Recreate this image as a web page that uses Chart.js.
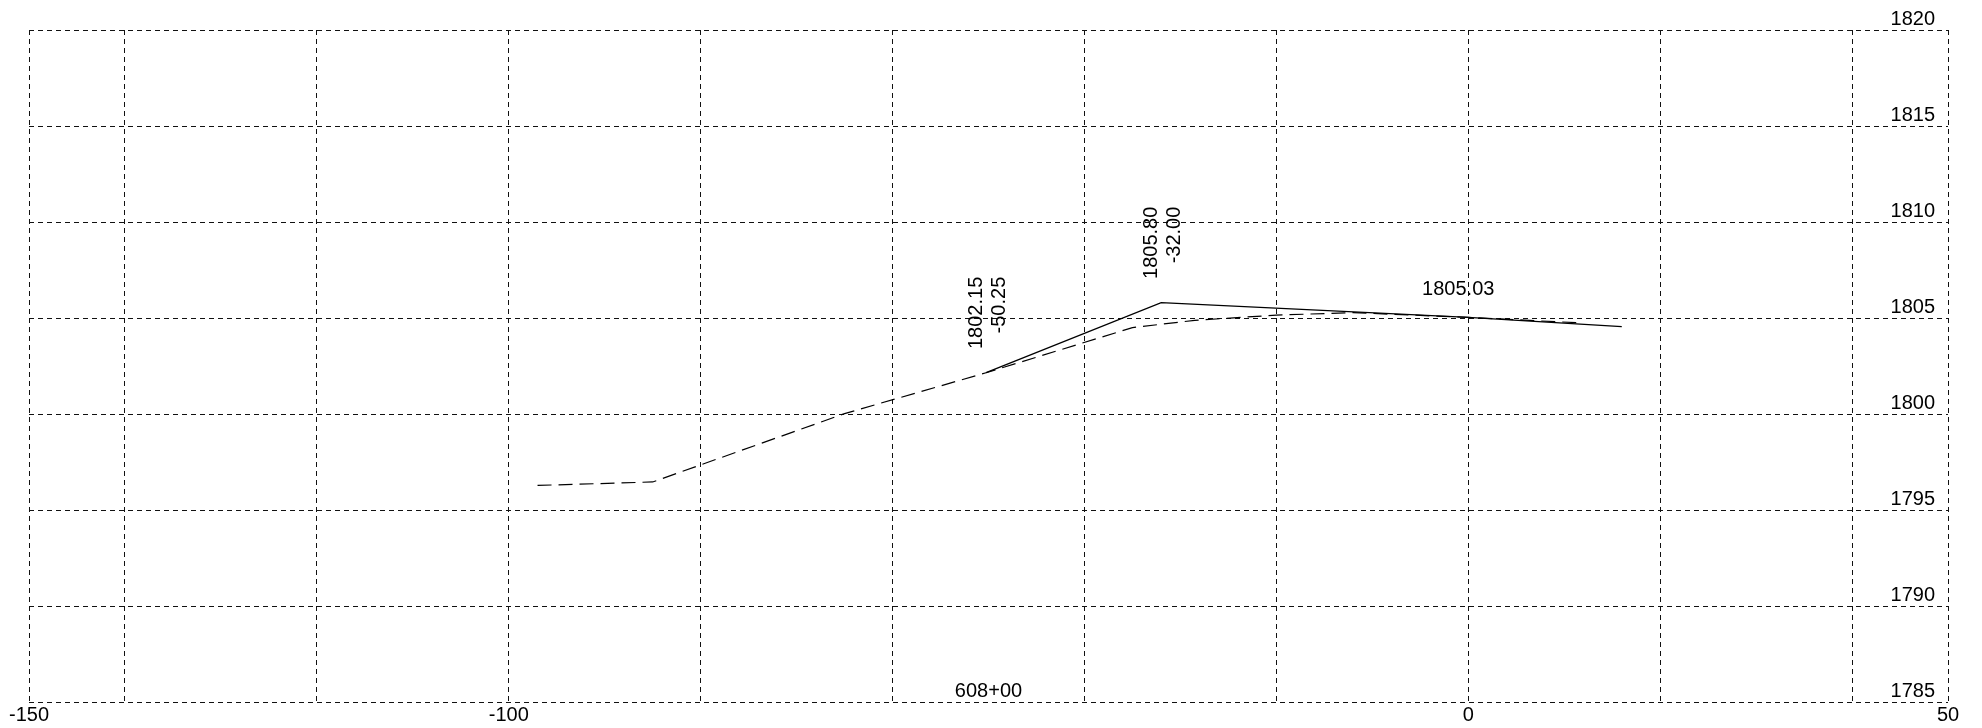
<!DOCTYPE html>
<html><head><meta charset="utf-8">
<script src="https://cdn.jsdelivr.net/npm/chart.js@4/dist/chart.umd.min.js"></script>
<style>html,body{margin:0;padding:0;background:#fff;overflow:hidden}#wrap{width:1982px;height:728px;position:relative}canvas{display:block}</style>
</head><body><div id="wrap"><canvas id="c" width="1982" height="728" style="width:1982px;height:728px"></canvas></div>
<script>
// Design (proposed) section – solid line
const designX = [-50.25, -32.00, 0, 16.0];
const designY = [1802.15, 1805.80, 1805.03, 1804.55];
// Existing ground – dashed line
const groundX = [-97.0, -85.0, -65.0, -50.25, -35.0, -28.5, -20.0, -12.0, 0, 11.5];
const groundY = [1796.28, 1796.46, 1800.02, 1802.15, 1804.5, 1804.88, 1805.15, 1805.28, 1805.03, 1804.75];
// Axis ticks
const xGridTicks = [-150, -140, -120, -100, -80, -60, -40, -20, 0, 20, 40, 50];
const xTickLabels = [-150, -100, 0, 50];
const yTicks = [1785, 1790, 1795, 1800, 1805, 1810, 1815, 1820];
// Annotations
const vertexLabelX = [-50.25, -32.00];
const vertexLabelY = [1802.15, 1805.80];
const centerLabelX = [0];
const centerLabelY = [1805.03];
const stationLabel = '608+00';
const stationX = -50;

const FONT = '"Liberation Sans", Arial, sans-serif';
const FS = 20;
Chart.defaults.font.family = FONT;
Chart.defaults.font.size = FS;
Chart.defaults.color = '#000';

const toPts = (xs, ys) => xs.map((x, i) => ({x, y: ys[i]}));

const annot = {
  id: 'annot',
  afterDatasetsDraw(chart) {
    const {ctx, scales: {x, y}, chartArea} = chart;
    ctx.save();
    ctx.fillStyle = '#000';
    ctx.font = FS + 'px ' + FONT;
    // elevation labels inside the plot, right side, above each grid line
    ctx.textAlign = 'right';
    ctx.textBaseline = 'alphabetic';
    yTicks.forEach(v => {
      ctx.fillText(String(v), chartArea.right - 13, y.getPixelForValue(v) - 5);
    });
    vertexLabelX.forEach((vx, i) => {
      const px = x.getPixelForValue(vx);
      const py = y.getPixelForValue(vertexLabelY[i]);
      const lines = [vertexLabelY[i].toFixed(2), vx.toFixed(2)];
      ctx.save();
      ctx.translate(px, py - 96);
      ctx.rotate(-Math.PI / 2);
      ctx.textAlign = 'right';
      ctx.textBaseline = 'middle';
      ctx.fillText(lines[0], 0, -9.5);
      ctx.fillText(lines[1], 0, 13);
      ctx.restore();
    });
    centerLabelX.forEach((cx, i) => {
      const px = x.getPixelForValue(cx);
      const py = y.getPixelForValue(centerLabelY[i]);
      ctx.textAlign = 'center';
      ctx.textBaseline = 'alphabetic';
      ctx.fillText(centerLabelY[i].toFixed(2), px - 10, py - 22);
    });
    ctx.textAlign = 'center';
    ctx.textBaseline = 'alphabetic';
    ctx.fillText(stationLabel, x.getPixelForValue(stationX), chartArea.bottom - 5);
    ctx.restore();
  }
};

new Chart(document.getElementById('c'), {
  type: 'line',
  data: {
    datasets: [
      {
        label: 'design',
        data: toPts(designX, designY),
        borderColor: '#000',
        borderWidth: 1.4,
        pointRadius: 0,
        tension: 0,
        fill: false
      },
      {
        label: 'ground',
        data: toPts(groundX, groundY),
        borderColor: '#000',
        borderWidth: 1.2,
        borderDash: [14, 7],
        pointRadius: 0,
        tension: 0,
        fill: false
      }
    ]
  },
  options: {
    responsive: false,
    animation: false,
    devicePixelRatio: 1,
    layout: {padding: {left: 29, right: 34, top: 30, bottom: 0}},
    plugins: {legend: {display: false}, tooltip: {enabled: false}},
    scales: {
      x: {
        type: 'linear',
        min: -150, max: 50,
        afterBuildTicks(axis) { axis.ticks = xGridTicks.map(v => ({value: v})); },
        ticks: {
          autoSkip: false, maxRotation: 0, minRotation: 0, padding: 1,
          font: {size: FS, lineHeight: 1.2},
          callback: v => xTickLabels.includes(v) ? String(v) : ''
        },
        grid: {color: '#111', lineWidth: 1, drawTicks: false},
        border: {display: false, dash: [5, 4]}
      },
      y: {
        type: 'linear',
        position: 'right',
        min: 1785, max: 1820,
        afterBuildTicks(axis) { axis.ticks = yTicks.map(v => ({value: v})); },
        ticks: {display: false},
        grid: {color: '#111', lineWidth: 1, drawTicks: false},
        border: {display: false, dash: [5, 4]}
      }
    }
  },
  plugins: [annot]
});
</script>
</body></html>
